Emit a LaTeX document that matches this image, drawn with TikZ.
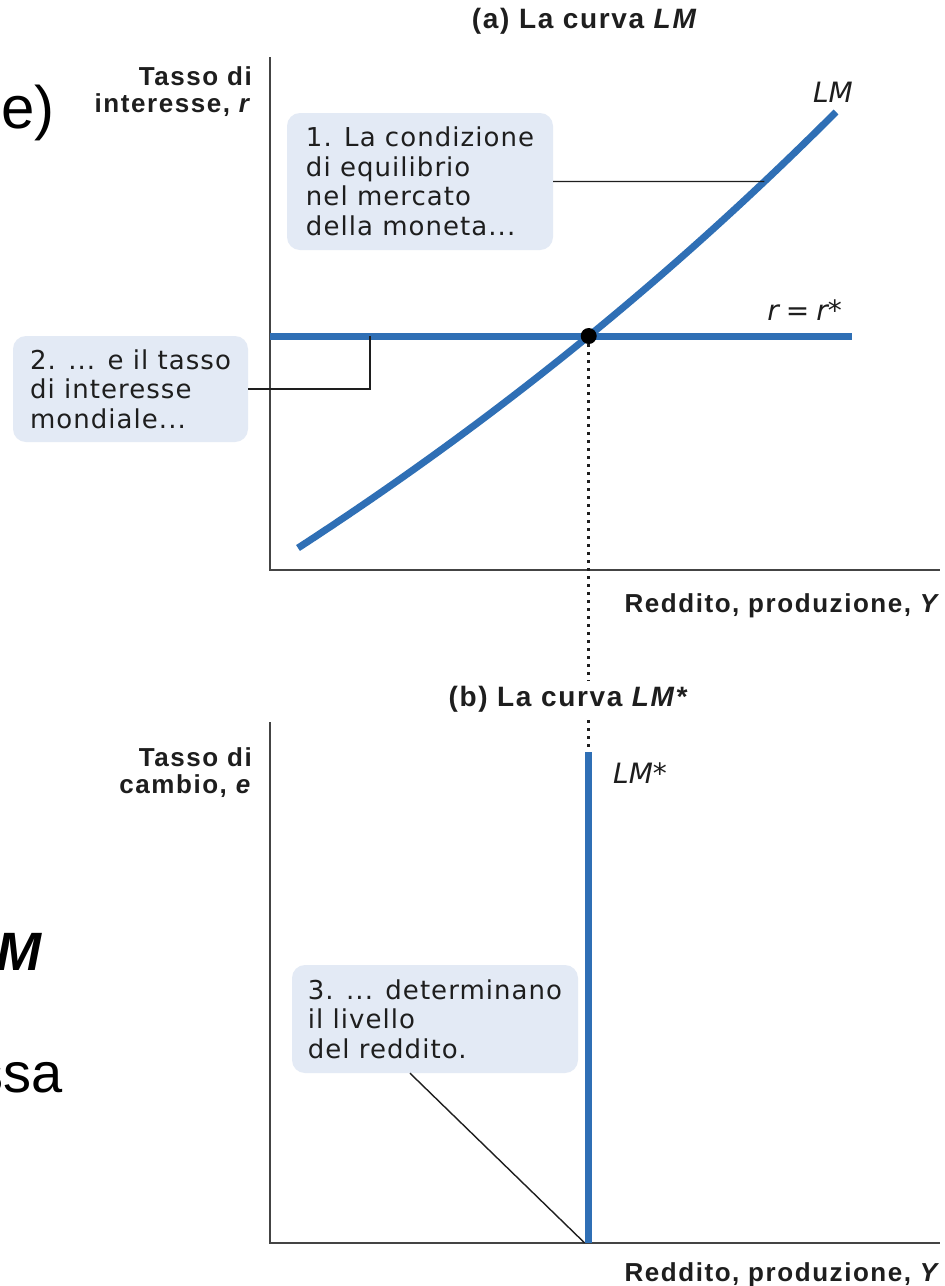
\documentclass[tikz,border=0pt]{standalone}
\usepackage{fontspec}
\setmainfont{DejaVu Sans}
\newfontfamily\boxfont{DejaVu Sans}[LetterSpace=4]
\newfontfamily\headfont{Liberation Sans}[LetterSpace=6]
\newfontfamily\slidefont{Liberation Sans}
\usetikzlibrary{intersections}

\definecolor{curveblue}{HTML}{2F6FB5}
\definecolor{boxfill}{HTML}{E3EAF5}
\definecolor{axisgrey}{HTML}{444444}
\definecolor{inkdark}{HTML}{1E1E1E}

\begin{document}
\begin{tikzpicture}[x=1pt, y=-1pt,
  axisline/.style={draw=axisgrey, line width=2.4pt},
  bluecurve/.style={draw=curveblue, line width=7pt},
  leader/.style={draw=inkdark, line width=1.4pt},
  dotline/.style={draw=inkdark, line width=3pt, dash pattern=on 3pt off 5pt},
  notebox/.style={fill=boxfill, rounded corners=13pt, align=left, text=inkdark,
    font=\boxfont\fontsize{26}{29.5}\selectfont, inner sep=0pt},
  axislabel/.style={font=\headfont\bfseries\fontsize{26}{26.5}\selectfont,
    text=inkdark, align=right, inner sep=0pt},
  paneltitle/.style={font=\headfont\bfseries\fontsize{28}{30}\selectfont,
    text=inkdark, inner sep=5pt},
  curvelabel/.style={font=\fontsize{28}{30}\selectfont\itshape, text=inkdark,
    inner sep=0pt},
  slidetext/.style={font=\slidefont\fontsize{60}{64}\selectfont, inner sep=0pt,
    anchor=base east, text=black}
]
\fill[white] (0,0) rectangle (945,1286);
\useasboundingbox (0,0) rectangle (945,1286);

% stray slide text along the left edge
\node[slidetext] (frag1) at (55,128) {e)};
\node[slidetext, font=\slidefont\bfseries\itshape\fontsize{54}{58}\selectfont] (frag2) at (42,970) {M};
\node[slidetext, font=\slidefont\fontsize{56}{60}\selectfont] (frag3) at (63,1092) {ssa};

% ---------- panel (a): the LM curve ----------
\coordinate (oA) at (270,570);
\coordinate (topA) at (270,57);
\coordinate (endA) at (940,570);
\draw[axisline] (topA) -- (oA) -- (endA);

\node[paneltitle, anchor=base] (titleA) at (585,28) {(a) La curva \textit{LM}};
% multi-line labels: the base anchor sits on the last line
\node[axislabel, anchor=base east] (ylabA) at (252,112) {Tasso di\\interesse, \textit{r}};
\node[axislabel, anchor=base east] (xlabA) at (941,612) {Reddito, produzione, \textit{Y}};

\draw[bluecurve, name path=rline] (270,336) -- (852,336);
\draw[bluecurve, name path=lmpath] (298,548) .. controls (478,431) and (656,292) .. (836,112);
\path[name intersections={of=lmpath and rline, by=eq}];

\node[curvelabel, anchor=base] (lmlab) at (833,102) {LM};
\node[curvelabel, anchor=base east] (rlab) at (842,320) {\textit{r}\hspace{7pt}{\upshape=}\hspace{7pt}\textit{r}*};

\node[notebox, minimum width=266pt, minimum height=137pt] (box1) at (420,181.5)
  {1. La condizione\\di equilibrio\\nel mercato\\della moneta...};
\node[notebox, minimum width=235pt, minimum height=106pt] (box2) at (130.5,389)
  {2. ... e il tasso\\di interesse\\mondiale...};

\path[name path=h1] (box1.east) -- ++(450,0);
\path[name intersections={of=lmpath and h1, by=c1}];
\draw[leader] (box1.east) -- (c1);
\coordinate (k2) at (370,336);
\draw[leader] (box2.east) -| (k2);

% ---------- panel (b): the LM* curve ----------
\coordinate (oB) at (270,1243);
\coordinate (topB) at (270,722);
\coordinate (endB) at (940,1243);
\coordinate (lmtop) at (590,752);

\draw[dotline] (eq) -- (eq |- lmtop);
\fill[black] (eq) circle (8pt);

\draw[axisline] (topB) -- (oB) -- (endB);
\draw[bluecurve, line width=7.5pt] (eq |- lmtop) -- (eq |- oB);

\node[paneltitle, fill=white, anchor=base] (titleB) at (569,706) {(b) La curva \textit{LM*}};
\node[axislabel, anchor=base east] (ylabB) at (252,793) {Tasso di\\cambio, \textit{e}};
\node[axislabel, anchor=base east] (xlabB) at (941,1281) {Reddito, produzione, \textit{Y}};
\node[curvelabel, anchor=base west] (lmslab) at (613,783) {LM*};

\node[notebox, minimum width=286pt, minimum height=108pt] (box3) at (435,1019)
  {3. ... determinano\\il livello\\del reddito.};
\coordinate (foot) at ([xshift=-4pt]eq |- oB);
\draw[leader] ([xshift=-25pt]box3.south) -- (foot);
\end{tikzpicture}
\end{document}
